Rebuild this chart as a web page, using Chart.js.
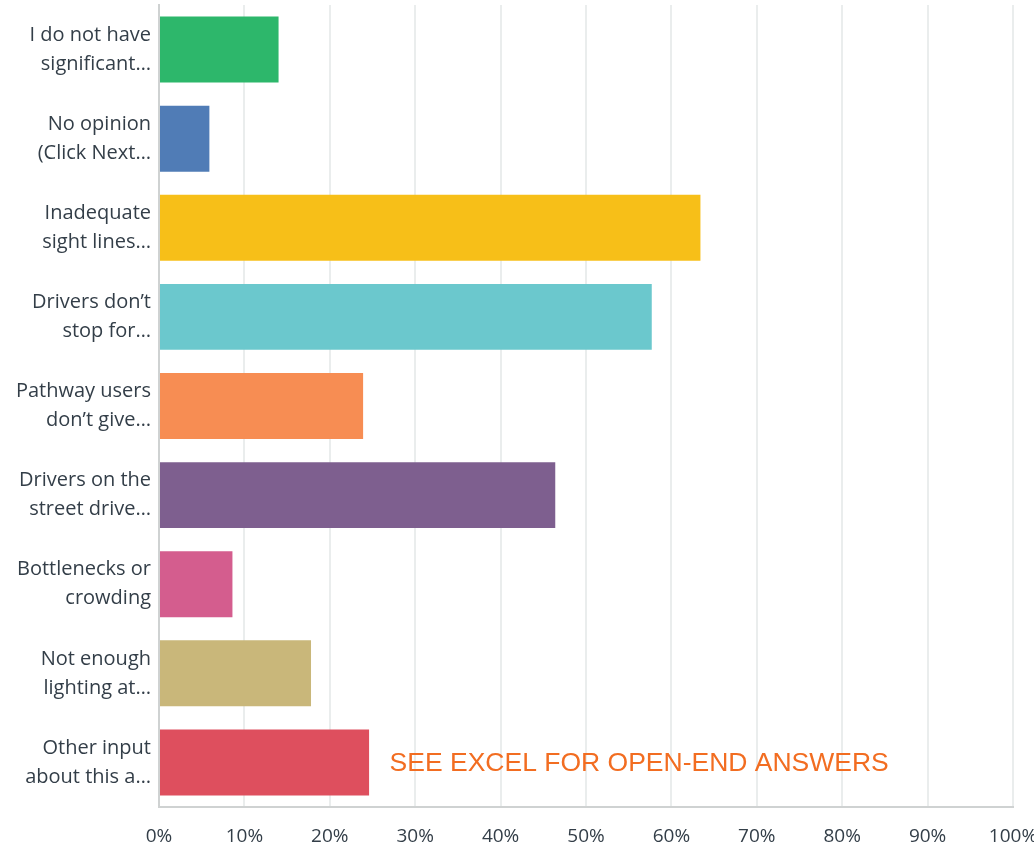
<!DOCTYPE html>
<html>
<head>
<meta charset="utf-8">
<script src="https://cdn.jsdelivr.net/npm/chart.js@4.4.0/dist/chart.umd.min.js"></script>
<style>
  body { margin: 0; background: #fff; }
  #wrap { width: 1034px; height: 849px; }
</style>
</head>
<body>
<div id="wrap"><canvas id="bar-chart" width="1034" height="849"></canvas></div>
<script>
// answer choices (already truncated as in the survey export)
const categories = [
    ["I do not have", "significant\u2026"],
    ["No opinion", "(Click Next\u2026"],
    ["Inadequate", "sight lines\u2026"],
    ["Drivers don\u2019t", "stop for\u2026"],
    ["Pathway users", "don\u2019t give\u2026"],
    ["Drivers on the", "street drive\u2026"],
    ["Bottlenecks or", "crowding"],
    ["Not enough", "lighting at\u2026"],
    ["Other input", "about this a\u2026"]
];
const percentages = [14.0, 5.9, 63.4, 57.7, 23.9, 46.4, 8.6, 17.8, 24.6];
const barColors = ["#2db76b", "#507cb6", "#f7bf18", "#6bc8cd", "#f78d53", "#7e5f8f", "#d45d8e", "#c9b77a", "#de4f5e"];
const xTicks = [0, 10, 20, 30, 40, 50, 60, 70, 80, 90, 100];
const noteText = "SEE EXCEL FOR OPEN-END ANSWERS";
const noteAt = { value: 27, category: 8 };

const textColor = "#333e48";

// writes the orange note next to the last bar
const notePlugin = {
    id: 'note',
    afterDatasetsDraw(chart) {
        const ctx = chart.ctx;
        const x = chart.scales.x.getPixelForValue(noteAt.value);
        const y = chart.scales.y.getPixelForValue(noteAt.category);
        ctx.save();
        ctx.fillStyle = "#f26d21";
        ctx.font = "26.5px 'Liberation Sans', Arial, sans-serif";
        ctx.textAlign = "left";
        ctx.textBaseline = "middle";
        ctx.fillText(noteText, x, y + 1);
        ctx.restore();
    }
};

let data = {
    labels: categories,
    datasets: [
        {
            data: percentages,
            backgroundColor: barColors,
            borderWidth: 0,
            categoryPercentage: 1.0,
            barPercentage: 0.74
        }
    ]
};

let config = {
    type: 'bar',
    data: data,
    options: {
        indexAxis: 'y',
        responsive: false,
        animation: false,
        layout: {
            padding: { top: 5, right: 21, left: 0, bottom: 0 }
        },
        scales: {
            x: {
                min: 0,
                max: 100,
                afterBuildTicks: (scale) => {
                    scale.ticks = xTicks.map(v => ({ value: v }));
                },
                afterFit: (scale) => {
                    scale.height = 42;
                    scale.paddingLeft = 0;
                    scale.paddingRight = 0;
                },
                ticks: {
                    color: textColor,
                    font: { family: "'Open Sans', sans-serif", size: 19 },
                    padding: 18,
                    maxRotation: 0,
                    callback: (v) => v + '%'
                },
                grid: {
                    color: "#eaeded",
                    lineWidth: 2,
                    drawTicks: false
                },
                border: { color: "#cfd2d2", width: 2 }
            },
            y: {
                afterFit: (scale) => {
                    scale.width = 159;
                    scale.paddingTop = 0;
                    scale.paddingBottom = 0;
                },
                ticks: {
                    color: textColor,
                    font: { family: "'Open Sans', sans-serif", size: 20, lineHeight: 1.45 },
                    padding: 8
                },
                grid: { display: false, drawTicks: false },
                border: { color: "#cfd2d2", width: 2 }
            }
        },
        plugins: {
            legend: { display: false },
            tooltip: { enabled: false }
        }
    },
    plugins: [notePlugin]
};

let ctx = document.getElementById('bar-chart').getContext('2d');
window.myBar = new Chart(ctx, config);
</script>
</body>
</html>
